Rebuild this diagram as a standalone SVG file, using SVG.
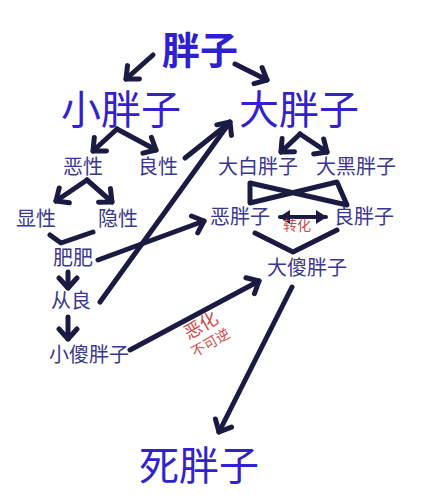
<svg xmlns="http://www.w3.org/2000/svg" width="440" height="502" viewBox="0 0 440 502">
<style>
.big{font-family:"Noto Sans CJK SC","Noto Sans CJK JP",sans-serif;font-size:40px;fill:#3322cc;text-anchor:middle}
.title{font-family:"Noto Sans CJK SC","Noto Sans CJK JP",sans-serif;font-size:38px;font-weight:bold;fill:#2e1fcf;text-anchor:middle}
.sm{font-family:"Noto Sans CJK SC","Noto Sans CJK JP",sans-serif;font-size:20px;fill:#3b3890;text-anchor:middle}
.red{font-family:"Noto Sans CJK SC","Noto Sans CJK JP",sans-serif;fill:#d04a4a;text-anchor:middle}
.ln{fill:none;stroke:#1a1a42;stroke-width:5;stroke-linecap:round;stroke-linejoin:round}
.thin{fill:none;stroke:#1a1a42;stroke-width:4;stroke-linecap:round}
</style>
<defs>
<marker id="v" viewBox="-14 -12 18 24" markerWidth="18" markerHeight="24" markerUnits="userSpaceOnUse" refX="0" refY="0" orient="auto">
<path d="M-10,-9 L0,0 L-10,9" fill="none" stroke="#1a1a42" stroke-width="5" stroke-linecap="round" stroke-linejoin="round"/>
</marker>
<marker id="tri" viewBox="-12 -8 14 16" markerWidth="14" markerHeight="16" markerUnits="userSpaceOnUse" refX="0" refY="0" orient="auto-start-reverse">
<path d="M-10,-7 L1,0 L-10,7 Z" fill="#1a1a42"/>
</marker>
</defs>
<rect width="440" height="502" fill="#ffffff"/>
<g id="connectors">
<line class="ln" x1="153" y1="55" x2="126" y2="79" marker-end="url(#v)"/>
<line class="ln" x1="235" y1="64" x2="267" y2="80" marker-end="url(#v)"/>
<line class="ln" x1="117" y1="129" x2="93" y2="151" marker-end="url(#v)"/>
<line class="ln" x1="117" y1="129" x2="156" y2="150" marker-end="url(#v)"/>
<line class="ln" x1="300" y1="134" x2="281" y2="152" marker-end="url(#v)"/>
<line class="ln" x1="300" y1="134" x2="327" y2="152" marker-end="url(#v)"/>
<line class="ln" x1="87" y1="180" x2="56" y2="201" marker-end="url(#v)"/>
<line class="ln" x1="87" y1="180" x2="112" y2="202" marker-end="url(#v)"/>
<path class="ln" d="M50,235 L61,243 L93,232"/>
<line class="ln" x1="185" y1="158" x2="229" y2="123"/>
<line class="ln" x1="100" y1="302" x2="230" y2="122" marker-end="url(#v)"/>
<line class="ln" x1="98" y1="260" x2="204" y2="221" marker-end="url(#v)"/>
<line class="ln" x1="68" y1="272" x2="68" y2="288" marker-end="url(#v)"/>
<line class="ln" x1="68" y1="317" x2="68" y2="339" marker-end="url(#v)"/>
<path class="ln" d="M250,183 L347,205 L337,182 L250,203 Z"/>
<line class="thin" x1="280" y1="217" x2="326" y2="217" marker-start="url(#tri)" marker-end="url(#tri)"/>
<path class="ln" d="M255,233 L293,252 L337,230"/>
<line class="ln" x1="130" y1="350" x2="259" y2="281" marker-end="url(#v)"/>
<line class="ln" x1="292" y1="287" x2="219" y2="432" marker-end="url(#v)"/>
</g>
<g id="n-pangzi"><text class="title" x="200" y="64">胖子</text></g>
<g id="n-xiaopangzi"><text class="big" x="121" y="124">小胖子</text></g>
<g id="n-dapangzi"><text class="big" x="299" y="124">大胖子</text></g>
<g id="n-exing"><text class="sm" x="83" y="174">恶性</text></g>
<g id="n-liangxing"><text class="sm" x="158" y="174">良性</text></g>
<g id="n-dabai"><text class="sm" x="258" y="174">大白胖子</text></g>
<g id="n-dahei"><text class="sm" x="356" y="174">大黑胖子</text></g>
<g id="n-xianxing"><text class="sm" x="36" y="226">显性</text></g>
<g id="n-yinxing"><text class="sm" x="118" y="226">隐性</text></g>
<g id="n-epangzi"><text class="sm" x="240" y="224">恶胖子</text></g>
<g id="n-liangpangzi"><text class="sm" x="364" y="224">良胖子</text></g>
<g id="n-feifei"><text class="sm" x="73" y="265">肥肥</text></g>
<g id="n-dasha"><text class="sm" x="307" y="275">大傻胖子</text></g>
<g id="n-congliang"><text class="sm" x="71" y="308">从良</text></g>
<g id="n-xiaosha"><text class="sm" x="89" y="362">小傻胖子</text></g>
<g id="n-sipangzi"><text class="big" x="199" y="480">死胖子</text></g>
<g id="labels">
<text class="red" x="297" y="230" font-size="14">转化</text>
<text class="red" x="0" y="0" font-size="18" transform="translate(204,331) rotate(-30)">恶化</text>
<text class="red" x="0" y="0" font-size="14" transform="translate(213,347) rotate(-30)">不可逆</text>
</g>
</svg>
